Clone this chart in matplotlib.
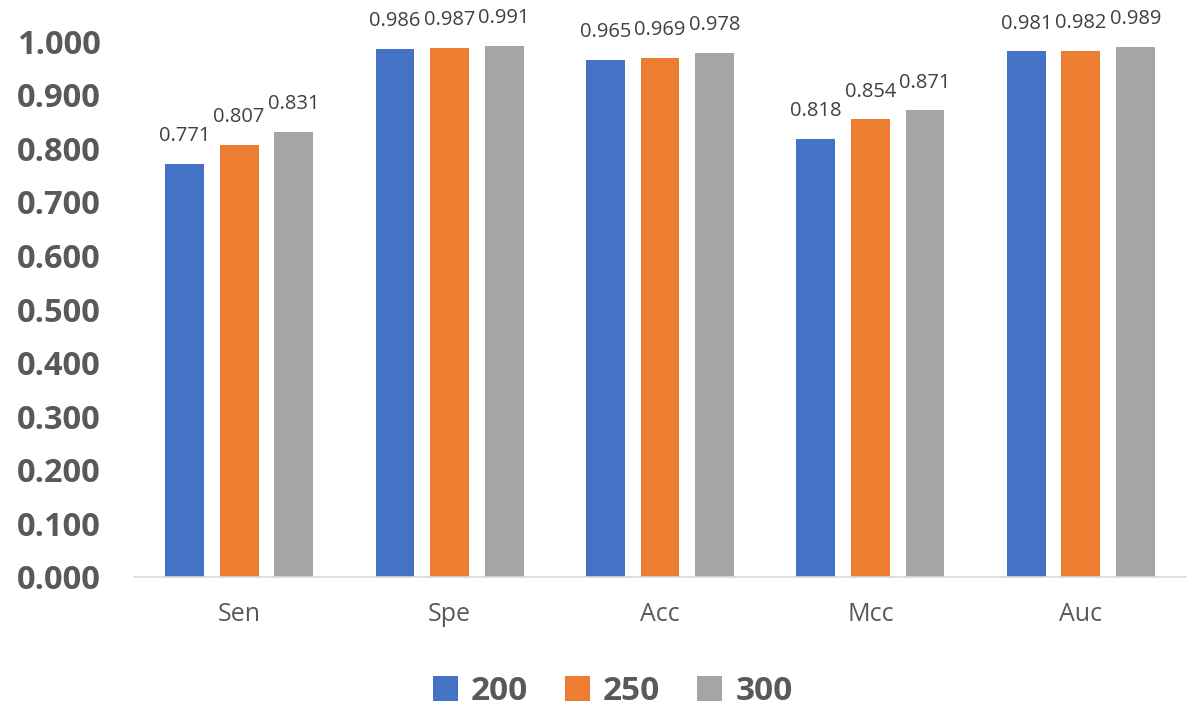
import matplotlib.pyplot as plt
import numpy as np

categories = ['Sen', 'Spe', 'Acc', 'Mcc', 'Auc']
series_names = ['200', '250', '300']
vals_200 = [0.771, 0.986, 0.965, 0.818, 0.981]
vals_250 = [0.807, 0.987, 0.969, 0.854, 0.982]
vals_300 = [0.831, 0.991, 0.978, 0.871, 0.989]
colors = ['#4472c4', '#ed7d31', '#a5a5a5']
yticks = np.arange(0, 1.01, 0.1)

plt.rcParams['font.family'] = ['Open Sans', 'DejaVu Sans']

fig = plt.figure(figsize=(12, 7.12), dpi=100)
ax = fig.add_axes([0.1115, 0.19, 0.877, 0.752])

x = np.arange(len(categories))
width = 0.185
pitch = 0.259
for i, (vals, name) in enumerate(zip([vals_200, vals_250, vals_300], series_names)):
    pos = x + (i - 1) * pitch
    bars = ax.bar(pos, vals, width, color=colors[i], label=name)
    for b, v in zip(bars, vals):
        ax.annotate(f'{v:.3f}', (b.get_x() + b.get_width() / 2, v),
                    xytext=(0, 20), textcoords='offset points',
                    ha='center', va='center', fontsize=14.5, color='#404040',
                    annotation_clip=False)

ax.set_xlim(-0.5, len(categories) - 0.5)
ax.set_ylim(0, 1.0)
ax.set_yticks(yticks)
ax.set_yticklabels([f'{t:.3f}' for t in yticks], fontsize=23.5, fontweight='bold', color='#595959')
ax.set_xticks(x)
ax.set_xticklabels(categories, fontsize=18, color='#595959')
ax.tick_params(axis='both', length=0)
ax.tick_params(axis='x', pad=18)
ax.tick_params(axis='y', pad=24)
for s in ['top', 'right', 'left']:
    ax.spines[s].set_visible(False)
ax.spines['bottom'].set_color('#d9d9d9')
ax.spines['bottom'].set_linewidth(1.2)

leg = ax.legend(loc='upper center', bbox_to_anchor=(0.455, -0.128), ncol=3, frameon=False,
                prop={'size': 24, 'weight': 'bold'}, handlelength=0.75, handleheight=0.75,
                handletextpad=0.4, columnspacing=1.1)
for t in leg.get_texts():
    t.set_color('#595959')

fig.savefig('out.png', dpi=100)
